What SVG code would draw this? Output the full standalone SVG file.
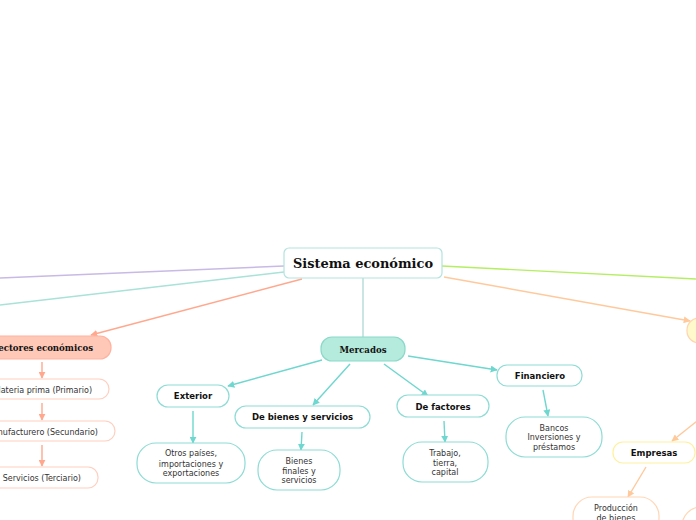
<svg xmlns="http://www.w3.org/2000/svg" width="696" height="520" viewBox="0 0 696 520">
<style>
.lbl{font-family:"DejaVu Sans","Verdana",sans-serif;font-size:8px;fill:#333;text-anchor:middle}
.bl{font-family:"DejaVu Sans","Verdana",sans-serif;font-size:8.5px;font-weight:bold;fill:#111;text-anchor:middle}
.ttl{font-family:"DejaVu Serif","Liberation Serif",serif;font-weight:bold;fill:#111;text-anchor:middle}
.tn{fill:#fff;stroke:#8edcd5;stroke-width:1.2}
.sn{fill:#fff;stroke:#ffcfbf;stroke-width:1.2}
.on{fill:#fff;stroke:#ffd6b5;stroke-width:1.2}
.c{fill:none;stroke-width:1.4}
.ct{stroke:#6ed7cf}
.cs{stroke:#ffa88e}
.co{stroke:#ffc99c}
</style>
<defs>
<marker id="at" viewBox="0 0 10 10" refX="9" refY="5" markerWidth="7" markerHeight="7" orient="auto" markerUnits="userSpaceOnUse"><path d="M0,0L10,5L0,10z" fill="#6ed7cf"/></marker>
<marker id="as" viewBox="0 0 10 10" refX="9" refY="5" markerWidth="7" markerHeight="7" orient="auto" markerUnits="userSpaceOnUse"><path d="M0,0L10,5L0,10z" fill="#ffa88e"/></marker>
<marker id="ao" viewBox="0 0 10 10" refX="9" refY="5" markerWidth="7" markerHeight="7" orient="auto" markerUnits="userSpaceOnUse"><path d="M0,0L10,5L0,10z" fill="#ffc99c"/></marker>
</defs>
<rect width="696" height="520" fill="#fff"/>
<g id="connectors">
<line class="c" x1="284" y1="266" x2="0" y2="278" stroke="#c9b9e6"/>
<line class="c" x1="284" y1="272" x2="0" y2="305" stroke="#a9e2d8"/>
<line class="c cs" x1="302" y1="279" x2="91" y2="335" marker-end="url(#as)"/>
<line class="c" x1="442" y1="266" x2="696" y2="279" stroke="#b5ee63"/>
<line class="c co" x1="444" y1="277" x2="690" y2="321" marker-end="url(#ao)"/>
<line class="c" x1="363" y1="278" x2="363" y2="337" stroke="#b3dcd8"/>
<line class="c cs" x1="42" y1="362" x2="42" y2="378" marker-end="url(#as)"/>
<line class="c cs" x1="42" y1="403" x2="42" y2="420" marker-end="url(#as)"/>
<line class="c cs" x1="42" y1="445" x2="42" y2="466" marker-end="url(#as)"/>
<line class="c ct" x1="322" y1="360" x2="228" y2="386" marker-end="url(#at)"/>
<line class="c ct" x1="350" y1="364" x2="313" y2="405" marker-end="url(#at)"/>
<line class="c ct" x1="384" y1="364" x2="428" y2="396" marker-end="url(#at)"/>
<line class="c ct" x1="408" y1="356" x2="497" y2="370" marker-end="url(#at)"/>
<line class="c ct" x1="193" y1="411" x2="193" y2="443" marker-end="url(#at)"/>
<line class="c ct" x1="302" y1="432" x2="301" y2="450" marker-end="url(#at)"/>
<line class="c ct" x1="444" y1="421" x2="445" y2="442" marker-end="url(#at)"/>
<line class="c ct" x1="543" y1="390" x2="548" y2="416" marker-end="url(#at)"/>
<line class="c co" x1="702" y1="417" x2="672" y2="441" marker-end="url(#ao)"/>
<line class="c co" x1="646" y1="467" x2="628" y2="497" marker-end="url(#ao)"/>
</g>
<g id="root">
<rect x="284" y="248" width="158" height="30" rx="5" fill="#fff" stroke="#b3e3de" stroke-width="1.2"/>
<text class="ttl" x="363" y="268" font-size="13" textLength="140" lengthAdjust="spacingAndGlyphs">Sistema económico</text>
</g>
<g id="sectores">
<rect x="-40" y="336" width="151" height="23" rx="11" fill="#ffc8b7" stroke="#ffb39f" stroke-width="1.2"/>
<text class="ttl" x="93" y="351" font-size="9" style="text-anchor:end" textLength="101" lengthAdjust="spacingAndGlyphs">Sectores económicos</text>
</g>
<g id="primario">
<rect class="sn" x="-40" y="379" width="149" height="20" rx="10"/>
<text class="lbl" x="92" y="392.5" style="text-anchor:end">Materia prima (Primario)</text>
</g>
<g id="secundario">
<rect class="sn" x="-40" y="421" width="155" height="20" rx="10"/>
<text class="lbl" x="98" y="434.5" style="text-anchor:end">Manufacturero (Secundario)</text>
</g>
<g id="terciario">
<rect class="sn" x="-40" y="467" width="138" height="21" rx="10"/>
<text class="lbl" x="81" y="481" style="text-anchor:end">Servicios (Terciario)</text>
</g>
<g id="mercados">
<rect x="321" y="337" width="84" height="24" rx="11" fill="#b4ebdd" stroke="#8ad9c9" stroke-width="1.2"/>
<text class="ttl" x="363" y="352.5" font-size="9" textLength="47" lengthAdjust="spacingAndGlyphs">Mercados</text>
</g>
<g id="exterior">
<rect class="tn" x="157" y="385" width="72" height="22" rx="11"/>
<text class="bl" x="193" y="399">Exterior</text>
</g>
<g id="otros">
<rect class="tn" x="137" y="443" width="108" height="40" rx="19"/>
<text class="lbl" x="191" y="456">Otros países,</text>
<text class="lbl" x="191" y="466.5">importaciones y</text>
<text class="lbl" x="191" y="476">exportaciones</text>
</g>
<g id="bienesservicios">
<rect class="tn" x="235" y="406" width="135" height="22" rx="11"/>
<text class="bl" x="302.5" y="420">De bienes y servicios</text>
</g>
<g id="bienesfinales">
<rect class="tn" x="258" y="450" width="82" height="40" rx="19"/>
<text class="lbl" x="299" y="464">Bienes</text>
<text class="lbl" x="299" y="473.5">finales y</text>
<text class="lbl" x="299" y="483">servicios</text>
</g>
<g id="factores">
<rect class="tn" x="397" y="395" width="92" height="22" rx="11"/>
<text class="bl" x="443" y="409.5">De factores</text>
</g>
<g id="trabajo">
<rect class="tn" x="403" y="442" width="85" height="40" rx="19"/>
<text class="lbl" x="445" y="456">Trabajo,</text>
<text class="lbl" x="445" y="466">tierra,</text>
<text class="lbl" x="445" y="475">capital</text>
</g>
<g id="financiero">
<rect class="tn" x="497" y="365" width="85" height="21" rx="10"/>
<text class="bl" x="540" y="378.5">Financiero</text>
</g>
<g id="bancos">
<rect class="tn" x="506" y="417" width="96" height="40" rx="19"/>
<text class="lbl" x="554" y="431">Bancos</text>
<text class="lbl" x="554" y="440">Inversiones y</text>
<text class="lbl" x="554" y="450">préstamos</text>
</g>
<g id="yellow">
<rect x="687" y="318" width="80" height="25" rx="12" fill="#fff9cc" stroke="#ffd4b0" stroke-width="1.2"/>
</g>
<g id="empresas">
<rect x="613" y="442" width="82" height="21" rx="10" fill="#fff" stroke="#fff09c" stroke-width="1.2"/>
<text class="bl" x="654" y="456">Empresas</text>
</g>
<g id="produccion">
<rect class="on" x="573" y="497" width="86" height="40" rx="19"/>
<text class="lbl" x="616" y="511">Producción</text>
<text class="lbl" x="616" y="520.5">de bienes</text>
</g>
<g id="otro">
<rect class="on" x="682" y="507" width="70" height="40" rx="19"/>
</g>
</svg>
